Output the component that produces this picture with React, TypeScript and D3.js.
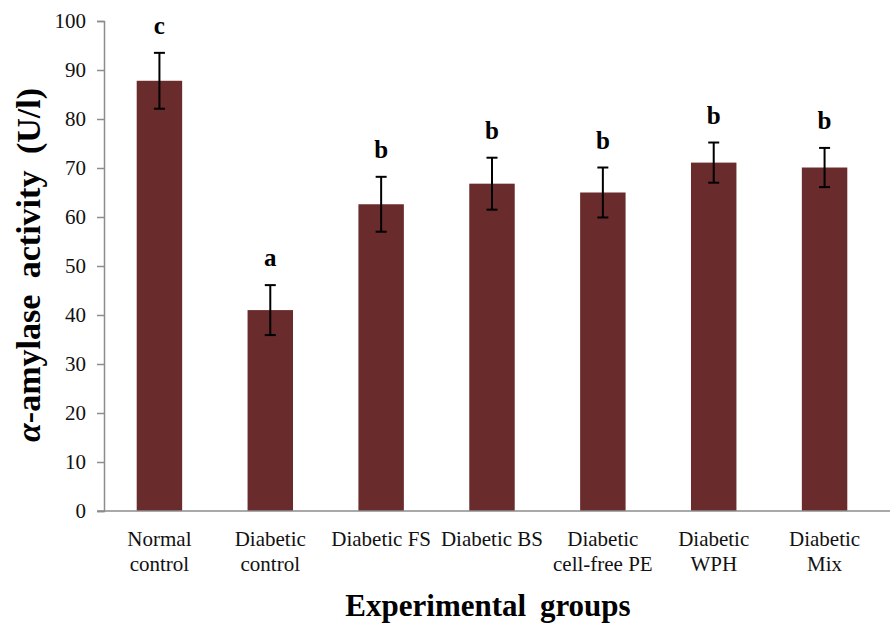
import React, { useEffect, useRef } from 'react';
import * as d3 from 'd3';

const categories = [
  'Normal control',
  'Diabetic control',
  'Diabetic FS',
  'Diabetic BS',
  'Diabetic cell-free PE',
  'Diabetic WPH',
  'Diabetic Mix',
];
const labelLines = [
  ['Normal', 'control'],
  ['Diabetic', 'control'],
  ['Diabetic FS'],
  ['Diabetic BS'],
  ['Diabetic', 'cell-free PE'],
  ['Diabetic', 'WPH'],
  ['Diabetic', 'Mix'],
];
const values = [87.8, 41.0, 62.6, 66.8, 65.0, 71.1, 70.1];
const errors = [5.7, 5.1, 5.6, 5.3, 5.1, 4.1, 4.0];
const letters = ['c', 'a', 'b', 'b', 'b', 'b', 'b'];
const yTicks = [0, 10, 20, 30, 40, 50, 60, 70, 80, 90, 100];

const App = () => {
  const ref = useRef<SVGSVGElement>(null);

  useEffect(() => {
    document.body.style.margin = '0';
    const svg = d3.select(ref.current);
    svg.selectAll('*').remove();

    const font = 'Liberation Serif, DejaVu Serif, serif';
    const left = 104, right = 880, top = 21, bottom = 511;

    const x = d3.scaleBand()
      .domain(categories)
      .range([left, right])
      .paddingInner(0.59)
      .paddingOuter(0.295);

    const y = d3.scaleLinear()
      .domain([0, 100])
      .range([bottom, top]);

    const data = categories.map((c, i) => ({
      cat: c, value: values[i], err: errors[i], letter: letters[i], lines: labelLines[i],
    }));

    // y axis
    const yAxis = svg.append('g')
      .attr('transform', `translate(${left},0)`)
      .call(d3.axisLeft(y).tickValues(yTicks).tickSize(7).tickPadding(11));
    yAxis.attr('font-family', null).attr('font-size', null);
    yAxis.select('.domain').attr('stroke', '#8c8c8c').attr('stroke-width', 1.5);
    yAxis.selectAll('.tick line').attr('stroke', '#8c8c8c').attr('stroke-width', 1.5);
    yAxis.selectAll('.tick text')
      .style('font-family', font)
      .style('font-size', '21px')
      .attr('fill', '#111');

    // bars
    svg.append('g')
      .selectAll('rect')
      .data(data)
      .join('rect')
        .attr('x', d => x(d.cat)!)
        .attr('y', d => y(d.value))
        .attr('width', x.bandwidth())
        .attr('height', d => y(0) - y(d.value))
        .attr('fill', '#6a2b2c');

    // x axis line (drawn over bars)
    svg.append('line')
      .attr('x1', left - 7)
      .attr('x2', 890)
      .attr('y1', y(0))
      .attr('y2', y(0))
      .attr('stroke', '#8c8c8c')
      .attr('stroke-width', 1.5);

    // error bars
    const eb = svg.append('g').attr('stroke', '#000').attr('stroke-width', 2);
    data.forEach(d => {
      const cx = x(d.cat)! + x.bandwidth() / 2;
      const y1 = y(d.value + d.err), y2 = y(d.value - d.err);
      eb.append('line').attr('x1', cx).attr('x2', cx).attr('y1', y1).attr('y2', y2);
      eb.append('line').attr('x1', cx - 5.5).attr('x2', cx + 5.5).attr('y1', y1).attr('y2', y1);
      eb.append('line').attr('x1', cx - 5.5).attr('x2', cx + 5.5).attr('y1', y2).attr('y2', y2);
    });

    // significance letters
    svg.append('g')
      .selectAll('text')
      .data(data)
      .join('text')
        .attr('x', d => x(d.cat)! + x.bandwidth() / 2)
        .attr('y', d => y(d.value + d.err) - 19)
        .attr('text-anchor', 'middle')
        .style('font-family', font)
        .style('font-weight', 'bold')
        .style('font-size', '25px')
        .text(d => d.letter);

    // category labels
    const lab = svg.append('g')
      .selectAll('text')
      .data(data)
      .join('text')
        .attr('text-anchor', 'middle')
        .style('font-family', font)
        .style('font-size', '21px')
        .attr('fill', '#111');
    lab.each(function (d) {
      const t = d3.select(this);
      d.lines.forEach((line, j) => {
        t.append('tspan')
          .attr('x', x(d.cat)! + x.bandwidth() / 2)
          .attr('y', 546 + j * 25)
          .text(line);
      });
    });

    // axis titles
    svg.append('text')
      .attr('x', 488)
      .attr('y', 616)
      .attr('text-anchor', 'middle')
      .style('font-family', font)
      .style('font-weight', 'bold')
      .style('font-size', '31px')
      .style('word-spacing', '6px')
      .text('Experimental groups');

    const yt = svg.append('text')
      .attr('transform', 'translate(40,265) rotate(-90)')
      .attr('text-anchor', 'middle')
      .style('font-family', font)
      .style('font-weight', 'bold')
      .style('font-size', '34px')
      .style('word-spacing', '8px');
    yt.append('tspan').style('font-style', 'italic').text('α');
    yt.append('tspan').text('-amylase activity (U/l)');
  }, []);

  return (
    <svg ref={ref} width={890} height={623} style={{ display: 'block', background: '#fff' }}></svg>
  );
};

export default App;
